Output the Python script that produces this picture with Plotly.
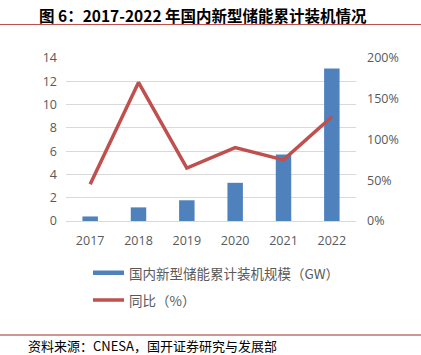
import plotly.graph_objects as go

years = ["2017", "2018", "2019", "2020", "2021", "2022"]
capacity_gw = [0.39, 1.17, 1.78, 3.28, 5.72, 13.1]
yoy_pct = [45, 170, 65, 90, 75, 128]

left_ticks = [0, 2, 4, 6, 8, 10, 12, 14]
right_ticks = [0, 50, 100, 150, 200]
right_tick_text = ["0%", "50%", "100%", "150%", "200%"]

BLUE = "#4F81BD"
RED = "#C0504D"
GRAY = "#595959"
FONT = "Open Sans, Noto Sans CJK SC, sans-serif"
CJK = "Noto Sans CJK SC, sans-serif"

fig = go.Figure()
fig.add_trace(go.Bar(x=years, y=capacity_gw, marker=dict(color=BLUE, line=dict(width=0)),
                     width=0.32, name="国内新型储能累计装机规模（GW）", yaxis="y"))
fig.add_trace(go.Scatter(x=years, y=yoy_pct, mode="lines", line=dict(color=RED, width=3.5),
                         name="同比（%）", yaxis="y2"))

fig.update_layout(
    width=421, height=355,
    margin=dict(l=66, r=65, t=58, b=134),
    paper_bgcolor="white", plot_bgcolor="white",
    showlegend=False,
    font=dict(family=FONT, size=12, color=GRAY),
    xaxis=dict(type="category", showgrid=False, showline=True, linecolor="#D9D9D9",
               ticks="", tickfont=dict(size=12.5, color=GRAY), automargin=False,
               ticklabelstandoff=8),
    yaxis=dict(range=[0, 14], tickvals=left_ticks, showgrid=True, gridcolor="#D9D9D9",
               zeroline=False, ticks="", tickfont=dict(size=12.5, color=GRAY), automargin=False,
               ticklabelstandoff=8),
    yaxis2=dict(range=[0, 200], tickvals=right_ticks, ticktext=right_tick_text,
                overlaying="y", side="right", showgrid=False, zeroline=False,
                tickfont=dict(size=12.5, color=GRAY), automargin=False,
                ticklabelstandoff=10),
)

def py(ypx):
    return (221 - ypx) / 163

def px(xpx):
    return (xpx - 66) / 290

# Title
fig.add_annotation(text="<b>图 6：2017-2022 年国内新型储能累计装机情况</b>", xref="paper", yref="paper",
                   x=px(37), y=py(15), xanchor="left", yanchor="middle",
                   showarrow=False, font=dict(family=CJK, size=15.5, color="#000000"))
# Lines under title and above source
fig.add_shape(type="line", xref="paper", yref="paper", x0=px(0), x1=px(421),
              y0=py(24.5), y1=py(24.5), line=dict(color="#C0504D", width=1.2))
fig.add_shape(type="line", xref="paper", yref="paper", x0=px(0), x1=px(421),
              y0=py(335), y1=py(335), line=dict(color="#A0282A", width=1))

# Legend (manual)
fig.add_shape(type="rect", xref="paper", yref="paper", x0=px(93), x1=px(124),
              y0=py(275), y1=py(270.5), fillcolor=BLUE, line=dict(width=0))
fig.add_annotation(text="国内新型储能累计装机规模（GW）", xref="paper", yref="paper",
                   x=px(127), y=py(272.7), xanchor="left", yanchor="middle", showarrow=False,
                   font=dict(family=CJK, size=13.5, color=GRAY))
fig.add_shape(type="line", xref="paper", yref="paper", x0=px(93), x1=px(124),
              y0=py(300), y1=py(300), line=dict(color=RED, width=3.5))
fig.add_annotation(text="同比（%）", xref="paper", yref="paper",
                   x=px(127), y=py(300), xanchor="left", yanchor="middle", showarrow=False,
                   font=dict(family=CJK, size=13.5, color=GRAY))

# Source
fig.add_annotation(text="资料来源：CNESA，国开证券研究与发展部", xref="paper", yref="paper",
                   x=px(26), y=py(345.5), xanchor="left", yanchor="middle", showarrow=False,
                   font=dict(family=CJK, size=13, color="#000000"))

fig.write_html("out.html", config={"displayModeBar": False},
               post_script="document.body.style.margin='0';document.body.style.overflow='hidden';")
